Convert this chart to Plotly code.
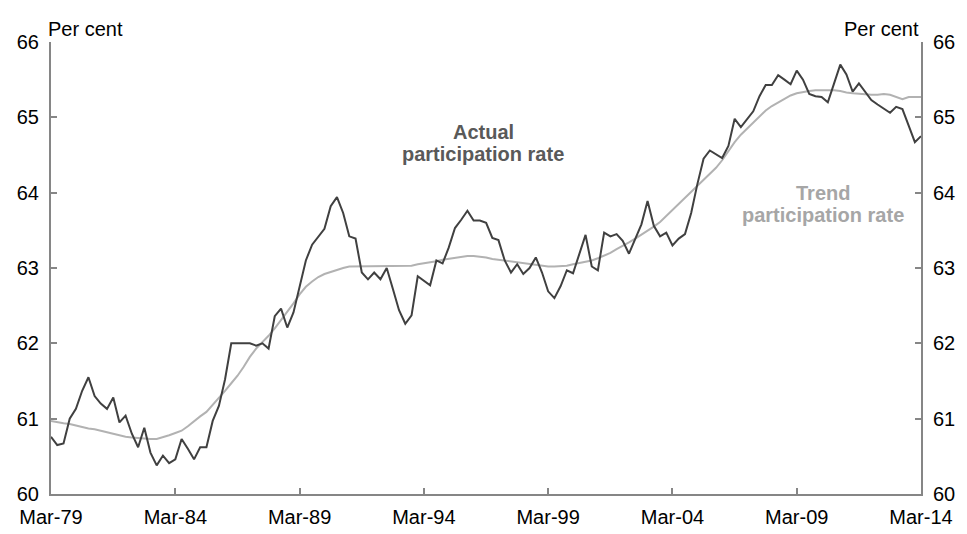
import pandas as pd
import plotly.graph_objects as go

# Quarterly observations, Mar-79 to Mar-14
quarters = pd.date_range("1979-03-01", periods=141, freq="3MS")

actual_rate = [
    60.76, 60.65, 60.67, 61.00, 61.13, 61.37, 61.55, 61.30, 61.20, 61.13,
    61.28, 60.95, 61.04, 60.80, 60.62, 60.88, 60.55, 60.38, 60.51, 60.41,
    60.46, 60.73, 60.60, 60.46, 60.62, 60.62, 60.97, 61.17, 61.52, 62.00,
    62.00, 62.00, 62.00, 61.97, 62.00, 61.93, 62.36, 62.46, 62.21, 62.41,
    62.76, 63.10, 63.31, 63.41, 63.52, 63.82, 63.94, 63.73, 63.42, 63.39,
    62.94, 62.85, 62.94, 62.85, 63.00, 62.72, 62.44, 62.26, 62.37, 62.89,
    62.83, 62.77, 63.10, 63.06, 63.27, 63.53, 63.64, 63.76, 63.63, 63.63,
    63.60, 63.40, 63.37, 63.10, 62.94, 63.05, 62.92, 63.00, 63.14, 62.94,
    62.69, 62.60, 62.76, 62.97, 62.93, 63.20, 63.44, 63.02, 62.97, 63.47,
    63.42, 63.45, 63.36, 63.19, 63.38, 63.58, 63.89, 63.56, 63.42, 63.47,
    63.30, 63.39, 63.45, 63.73, 64.11, 64.45, 64.56, 64.51, 64.46, 64.62,
    64.98, 64.87, 64.97, 65.08, 65.28, 65.43, 65.43, 65.56, 65.50, 65.44,
    65.62, 65.50, 65.31, 65.28, 65.27, 65.20, 65.45, 65.70, 65.57, 65.34,
    65.45, 65.34, 65.23, 65.17, 65.12, 65.06, 65.14, 65.11, 64.89, 64.67,
    64.75,
]

trend_rate = [
    60.97, 60.95, 60.94, 60.93, 60.91, 60.89, 60.87, 60.86, 60.84, 60.82,
    60.80, 60.78, 60.76, 60.75, 60.74, 60.73, 60.73, 60.73, 60.75, 60.78,
    60.81, 60.84, 60.90, 60.97, 61.03, 61.09, 61.18, 61.27, 61.37, 61.47,
    61.57, 61.69, 61.82, 61.93, 62.01, 62.10, 62.20, 62.31, 62.41, 62.53,
    62.65, 62.75, 62.82, 62.88, 62.92, 62.95, 62.98, 63.00, 63.02, 63.02,
    63.03, 63.03, 63.03, 63.03, 63.03, 63.03, 63.03, 63.03, 63.03, 63.05,
    63.06, 63.07, 63.09, 63.11, 63.12, 63.14, 63.15, 63.16, 63.16, 63.15,
    63.14, 63.12, 63.11, 63.09, 63.08, 63.07, 63.06, 63.05, 63.04, 63.03,
    63.02, 63.02, 63.02, 63.03, 63.05, 63.07, 63.08, 63.10, 63.13, 63.16,
    63.20, 63.25, 63.29, 63.34, 63.39, 63.44, 63.50, 63.55, 63.61, 63.69,
    63.76, 63.84, 63.92, 64.00, 64.09, 64.17, 64.25, 64.33, 64.43, 64.55,
    64.67, 64.77, 64.85, 64.94, 65.02, 65.09, 65.15, 65.20, 65.25, 65.29,
    65.32, 65.34, 65.35, 65.36, 65.36, 65.36, 65.36, 65.35, 65.33, 65.32,
    65.31, 65.30, 65.30, 65.30, 65.31, 65.30, 65.27, 65.24, 65.27, 65.27,
    65.27,
]

y_ticks = [60, 61, 62, 63, 64, 65, 66]
y_unit = "Per cent"
actual_label = ["Actual", "participation rate"]
trend_label = ["Trend", "participation rate"]

FONT = "Arial, Liberation Sans, sans-serif"
AXIS_GREY = "#868686"
DARK = "#404040"
LIGHT = "#B2B2B2"

fig = go.Figure()
fig.add_trace(go.Scatter(x=quarters, y=trend_rate, mode="lines",
                         line=dict(color=LIGHT, width=2), yaxis="y",
                         showlegend=False, hoverinfo="skip"))
fig.add_trace(go.Scatter(x=quarters, y=actual_rate, mode="lines",
                         line=dict(color=DARK, width=2), yaxis="y2",
                         showlegend=False, hoverinfo="skip"))

yax = dict(range=[60, 66], tickvals=y_ticks, ticks="inside", ticklen=6,
           tickwidth=1.5, tickcolor=AXIS_GREY, showline=True, linecolor=AXIS_GREY,
           linewidth=2, showgrid=False, zeroline=False, automargin=False,
           tickfont=dict(family=FONT, size=20, color="#000000"),
           ticklabelstandoff=6)

fig.update_layout(
    template="none",
    width=967, height=534,
    margin=dict(l=51, r=46, t=42, b=40, autoexpand=False),
    paper_bgcolor="white", plot_bgcolor="white",
    xaxis=dict(type="date", range=[quarters[0], quarters[-1]],
               tick0=quarters[0], dtick="M60", tickformat="%b-%y",
               ticks="inside", ticklen=6, tickwidth=1.5, tickcolor=AXIS_GREY,
               showline=True, linecolor=AXIS_GREY, linewidth=2,
               showgrid=False, zeroline=False, automargin=False,
               tickfont=dict(family=FONT, size=20, color="#000000"),
               ticklabelstandoff=4),
    yaxis=dict(side="left", **yax),
    yaxis2=dict(side="right", overlaying="y", **yax),
)

annots = []
annots.append(dict(text=y_unit, xref="paper", yref="paper", x=-0.006, y=1.0,
                   xanchor="left", yanchor="bottom", showarrow=False,
                   font=dict(family=FONT, size=20, color="#000000")))
annots.append(dict(text=y_unit, xref="paper", yref="paper", x=1.0, y=1.0,
                   xanchor="right", yanchor="bottom", showarrow=False,
                   font=dict(family=FONT, size=20, color="#000000")))

for label, xc, ys, col in [(actual_label, 0.4968, [64.80, 64.51], "#595959"),
                           (trend_label, 0.8875, [64.00, 63.71], "#A6A6A6")]:
    for line_txt, yv in zip(label, ys):
        annots.append(dict(text="<b>" + line_txt + "</b>", xref="paper", yref="y",
                           x=xc, y=yv, xanchor="center", yanchor="middle",
                           showarrow=False,
                           font=dict(family=FONT, size=20, color=col)))

fig.update_layout(annotations=annots)
fig.write_html("out.html", config={"displayModeBar": False},
               post_script="document.body.style.margin='0px';document.body.style.padding='0px';")
